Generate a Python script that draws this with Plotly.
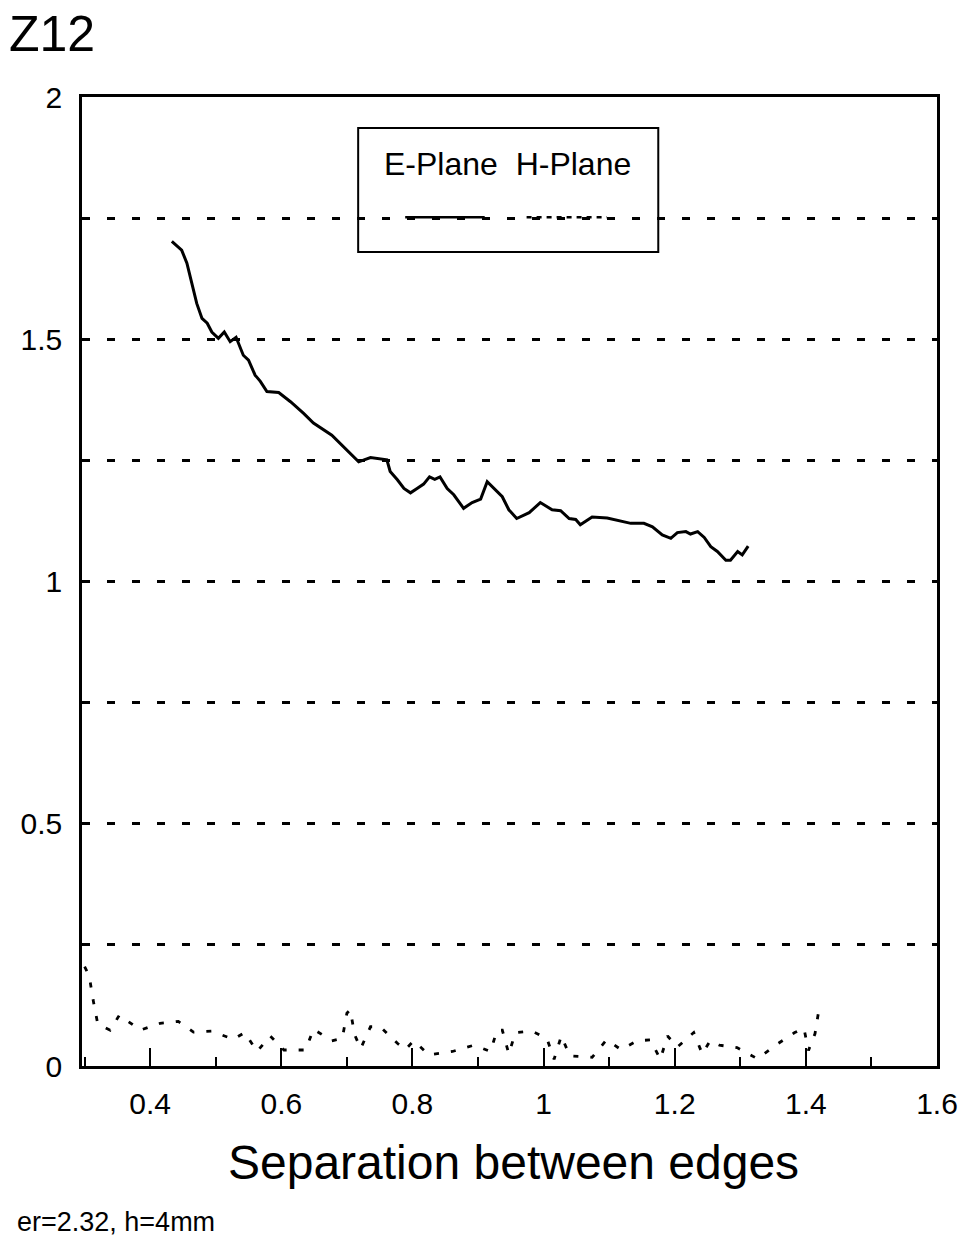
import plotly.graph_objects as go

# E-Plane measurement (solid curve)
e_x = [0.433, 0.448, 0.456, 0.464, 0.471, 0.479, 0.487, 0.494, 0.504, 0.513,
       0.522, 0.531, 0.542, 0.550, 0.560, 0.568, 0.578, 0.596, 0.614, 0.634,
       0.649, 0.677, 0.695, 0.718, 0.736, 0.748, 0.761, 0.766, 0.777, 0.787,
       0.797, 0.807, 0.817, 0.826, 0.834, 0.842, 0.853, 0.863, 0.878, 0.891,
       0.904, 0.914, 0.924, 0.937, 0.947, 0.959, 0.978, 0.995, 1.013, 1.026,
       1.039, 1.049, 1.056, 1.074, 1.097, 1.112, 1.133, 1.153, 1.166, 1.181,
       1.194, 1.204, 1.217, 1.224, 1.235, 1.245, 1.255, 1.265, 1.278, 1.285,
       1.296, 1.303, 1.312]
e_y = [1.702, 1.684, 1.657, 1.615, 1.574, 1.543, 1.533, 1.515, 1.502, 1.515,
       1.495, 1.504, 1.467, 1.457, 1.426, 1.413, 1.392, 1.390, 1.371, 1.347,
       1.327, 1.302, 1.278, 1.247, 1.256, 1.254, 1.251, 1.227, 1.210, 1.192,
       1.183, 1.192, 1.201, 1.216, 1.211, 1.216, 1.192, 1.179, 1.151, 1.163,
       1.170, 1.206, 1.192, 1.175, 1.148, 1.130, 1.142, 1.163, 1.148, 1.146,
       1.130, 1.128, 1.117, 1.133, 1.131, 1.127, 1.120, 1.120, 1.113, 1.096,
       1.089, 1.101, 1.103, 1.098, 1.103, 1.091, 1.072, 1.062, 1.044, 1.044,
       1.062, 1.055, 1.073]

# H-Plane measurement (dotted curve)
h_x = [0.300, 0.307, 0.313, 0.320, 0.339, 0.353, 0.385, 0.415, 0.443, 0.466,
       0.494, 0.527, 0.544, 0.563, 0.583, 0.604, 0.637, 0.649, 0.677, 0.693,
       0.700, 0.705, 0.712, 0.721, 0.736, 0.751, 0.777, 0.789, 0.802, 0.825,
       0.861, 0.894, 0.919, 0.929, 0.937, 0.947, 0.957, 0.982, 1.005, 1.016,
       1.027, 1.040, 1.074, 1.096, 1.118, 1.143, 1.163, 1.178, 1.189, 1.204,
       1.229, 1.242, 1.254, 1.268, 1.295, 1.326, 1.356, 1.383, 1.397, 1.404,
       1.414, 1.420]
h_y = [0.205, 0.186, 0.136, 0.087, 0.074, 0.105, 0.074, 0.088, 0.092, 0.070,
       0.072, 0.055, 0.069, 0.030, 0.062, 0.033, 0.033, 0.076, 0.052, 0.057,
       0.109, 0.116, 0.064, 0.036, 0.081, 0.081, 0.047, 0.034, 0.052, 0.023,
       0.030, 0.043, 0.030, 0.074, 0.074, 0.025, 0.069, 0.072, 0.057, 0.014,
       0.062, 0.021, 0.018, 0.054, 0.034, 0.052, 0.054, 0.014, 0.062, 0.039,
       0.069, 0.025, 0.052, 0.043, 0.038, 0.015, 0.045, 0.069, 0.078, 0.032,
       0.067, 0.117]

x_ticks = [0.4, 0.6, 0.8, 1.0, 1.2, 1.4, 1.6]
x_tick_text = ["0.4", "0.6", "0.8", "1", "1.2", "1.4", "1.6"]
y_ticks = [0, 0.5, 1, 1.5, 2]
y_tick_text = ["0", "0.5", "1", "1.5", "2"]

FONT = "Liberation Sans, Arial, Helvetica, sans-serif"
GRID_DASH = "8px,17px"
H_DASH = "5px,12px"

fig = go.Figure()
fig.add_trace(go.Scatter(x=e_x, y=e_y, mode="lines", name="E-Plane",
                         line=dict(color="black", width=3), showlegend=False))
fig.add_trace(go.Scatter(x=h_x, y=h_y, mode="lines", name="H-Plane",
                         line=dict(color="black", width=2.8, dash=H_DASH),
                         showlegend=False))

fig.update_layout(
    width=964, height=1237,
    margin=dict(l=82, r=27, t=97, b=171),
    paper_bgcolor="white", plot_bgcolor="white",
    font=dict(family=FONT, color="black", size=30),
    xaxis=dict(
        range=[0.296, 1.6], tickmode="array", tickvals=x_ticks, ticktext=x_tick_text,
        ticks="inside", ticklen=18, tickwidth=2, tickcolor="black",
        minor=dict(tickmode="linear", tick0=0.4, dtick=0.1, ticks="inside",
                   ticklen=9, tickwidth=2, tickcolor="black"),
        showline=True, linecolor="black", linewidth=2.5, mirror=True,
        showgrid=False, zeroline=False, ticklabelstandoff=9,
        tickfont=dict(size=30), automargin=False,
    ),
    yaxis=dict(
        range=[0, 2], tickmode="array", tickvals=y_ticks, ticktext=y_tick_text,
        ticks="", showline=True, linecolor="black", linewidth=2.5, mirror=True,
        showgrid=True, gridcolor="black", gridwidth=2.5, griddash=GRID_DASH,
        minor=dict(tickmode="linear", tick0=0, dtick=0.25, showgrid=True,
                   gridcolor="black", gridwidth=2.5, griddash=GRID_DASH),
        zeroline=False, ticklabelstandoff=11, tickfont=dict(size=30),
        automargin=False,
    ),
)

# Legend frame, labels and line samples
fig.add_shape(type="rect", xref="paper", yref="paper",
              x0=0.323, x1=0.674, y0=0.840, y1=0.968,
              line=dict(color="black", width=2), fillcolor="rgba(0,0,0,0)")
fig.add_annotation(xref="paper", yref="paper", x=0.498, y=0.931,
                   text="E-Plane  H-Plane", showarrow=False,
                   font=dict(size=32), xanchor="center", yanchor="middle")
fig.add_shape(type="line", xref="paper", yref="paper",
              x0=0.378, x1=0.471, y0=0.876, y1=0.876,
              line=dict(color="black", width=2.5))
fig.add_shape(type="line", xref="paper", yref="paper",
              x0=0.520, x1=0.614, y0=0.876, y1=0.876,
              line=dict(color="black", width=2.5, dash="5px,5px"))

# Panel label, axis title and footnote
fig.add_annotation(xref="paper", yref="paper", x=-0.088, y=1.065,
                   text="Z12", showarrow=False, font=dict(size=50),
                   xanchor="left", yanchor="middle")
fig.add_annotation(xref="paper", yref="paper", x=0.505, y=-0.100,
                   text="Separation between edges", showarrow=False,
                   font=dict(size=48), xanchor="center", yanchor="middle")
fig.add_annotation(xref="paper", yref="paper", x=-0.078, y=-0.161,
                   text="er=2.32, h=4mm", showarrow=False, font=dict(size=27),
                   xanchor="left", yanchor="middle")

fig.write_html("out.html")
